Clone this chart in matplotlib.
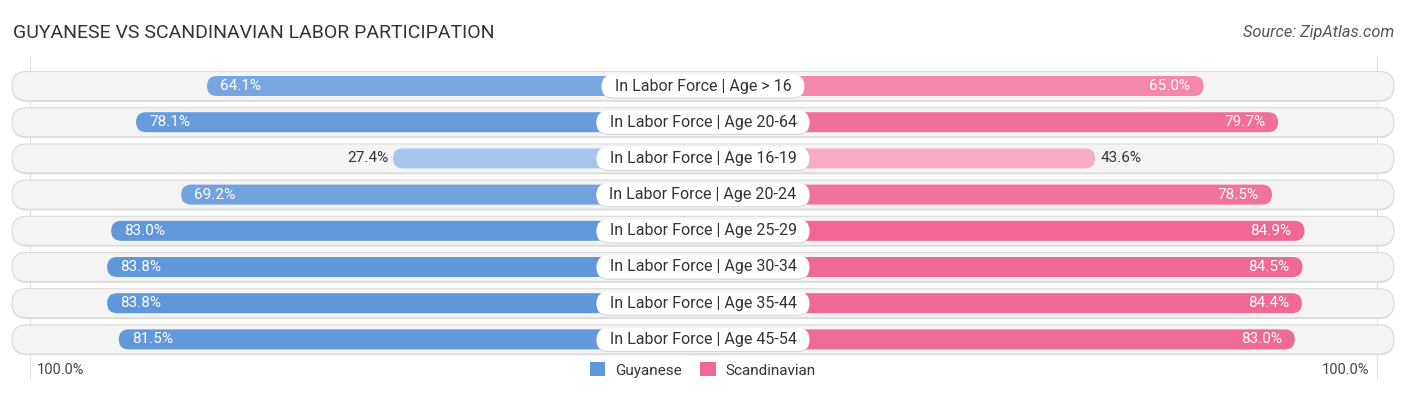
import matplotlib.pyplot as plt
from matplotlib.patches import FancyBboxPatch, Patch

plt.rcParams['font.family'] = ['Roboto', 'DejaVu Sans']

categories = ['In Labor Force | Age > 16', 'In Labor Force | Age 20-64',
              'In Labor Force | Age 16-19', 'In Labor Force | Age 20-24',
              'In Labor Force | Age 25-29', 'In Labor Force | Age 30-34',
              'In Labor Force | Age 35-44', 'In Labor Force | Age 45-54']
guyanese = [64.1, 78.1, 27.4, 69.2, 83.0, 83.8, 83.8, 81.5]
scandinavian = [65.0, 79.7, 43.6, 78.5, 84.9, 84.5, 84.4, 83.0]
series_names = ['Guyanese', 'Scandinavian']

W, H = 1406, 395
CX = 703          # centre of the chart in px
OFF = 171         # bars start under the label box
SCALE = 5.07      # px per percent
ROW0, DY = 86, 36.2

BLUE = (0.373, 0.592, 0.855)
PINK = (0.941, 0.404, 0.580)


def shade(base, v, vals):
    lo, hi = min(vals), max(vals)
    w = 0.45 * (hi - v) / (hi - lo)
    return tuple(c + (1 - c) * w for c in base)


def pill(ax, x0, x1, yc, h, fc, ec='none', lw=0, z=2):
    r = h / 2
    p = FancyBboxPatch((x0 + r, yc - h / 2 + r), x1 - x0 - 2 * r, h - 2 * r,
                       boxstyle=f'round,pad={r}', fc=fc, ec=ec, lw=lw, zorder=z)
    ax.add_patch(p)


fig = plt.figure(figsize=(W / 100, H / 100), dpi=100)
ax = fig.add_axes([0, 0, 1, 1])
ax.set_xlim(0, W)
ax.set_ylim(H, 0)
ax.axis('off')
renderer = fig.canvas.get_renderer()

fig.text(13 / W, 1 - 33 / H, 'GUYANESE VS SCANDINAVIAN LABOR PARTICIPATION',
         fontsize=14, color='#333333', va='center', ha='left')
fig.text(1394 / W, 1 - 33 / H, 'Source: ZipAtlas.com', fontsize=11.8,
         color='#555555', style='italic', va='center', ha='right')

# faint 100% guide lines
for xg in (30, 1377):
    ax.plot([xg, xg], [56, 378], color='#dddddd', lw=0.8, zorder=1)

for i, (cat, g, s) in enumerate(zip(categories, guyanese, scandinavian)):
    yc = ROW0 + i * DY
    pill(ax, 12, 1394, yc + 1, 30, '#e2e2e2', z=1.5)
    pill(ax, 12, 1394, yc, 29, '#f4f4f4', ec='#dadada', lw=0.8, z=2)

    xl = CX - OFF - g * SCALE
    xr = CX + OFF + s * SCALE
    pill(ax, xl, CX, yc, 20, shade(BLUE, g, guyanese), z=3)
    pill(ax, CX, xr, yc, 20, shade(PINK, s, scandinavian), z=3)

    if g > 50:
        ax.text(xl + 13, yc, f'{g:.1f}%', color='white', fontsize=11,
                va='center', ha='left', zorder=5)
    else:
        ax.text(xl - 5, yc, f'{g:.1f}%', color='#333333', fontsize=11,
                va='center', ha='right', zorder=5)
    if s > 50:
        ax.text(xr - 13, yc, f'{s:.1f}%', color='white', fontsize=11,
                va='center', ha='right', zorder=5)
    else:
        ax.text(xr + 6, yc, f'{s:.1f}%', color='#333333', fontsize=11,
                va='center', ha='left', zorder=5)

    t = ax.text(CX, yc, cat, fontsize=11.5, color='#333333', va='center',
                ha='center', zorder=6)
    tw = t.get_window_extent(renderer).width
    pill(ax, CX - tw / 2 - 13, CX + tw / 2 + 13, yc + 1.2, 23, '#d8d8d8', z=4)
    pill(ax, CX - tw / 2 - 13, CX + tw / 2 + 13, yc, 23, 'white', z=4.5)

ax.text(37, 370, '100.0%', fontsize=10.5, color='#444444', va='center', ha='left')
ax.text(1369, 370, '100.0%', fontsize=10.5, color='#444444', va='center', ha='right')

handles = [Patch(fc=BLUE, ec='none'), Patch(fc=PINK, ec='none')]
fig.legend(handles, series_names, loc='center', bbox_to_anchor=(0.5, 1 - 370 / H),
           ncol=2, frameon=False, fontsize=11, handlelength=1.0, handleheight=1.0,
           handletextpad=0.65, columnspacing=1.2, labelcolor='#333333')

fig.savefig('out.png', dpi=100)
